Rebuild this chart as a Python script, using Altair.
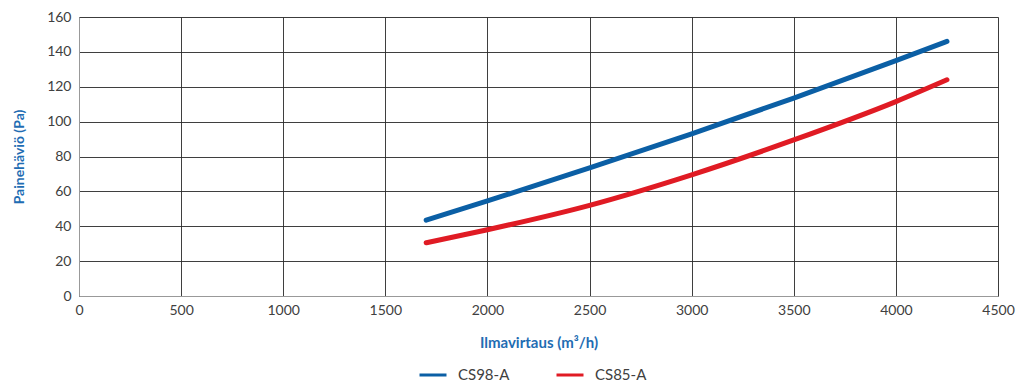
import altair as alt
import pandas as pd

flow = [1700, 2000, 2500, 3000, 3500, 4000, 4250]
cs98 = [43.5, 54.5, 73.5, 93.0, 113.5, 135.0, 146.0]
cs85 = [30.5, 38.0, 52.0, 69.5, 89.5, 111.5, 124.0]
series = ["CS98-A", "CS85-A"]
colors = ["#0b5fa5", "#e01b24"]
x_ticks = list(range(0, 4501, 500))
y_ticks = list(range(0, 161, 20))

rows = []
for f, v in zip(flow, cs98):
    rows.append({"flow": f, "dp": v, "series": series[0]})
for f, v in zip(flow, cs85):
    rows.append({"flow": f, "dp": v, "series": series[1]})
df = pd.DataFrame(rows)

font = "Lato"
title_color = "#1f6db3"

chart = alt.Chart(df).mark_line(strokeWidth=5, interpolate="monotone", strokeCap="round").encode(
    x=alt.X("flow:Q", scale=alt.Scale(domain=[0, 4500], nice=False),
            axis=alt.Axis(values=x_ticks, title="Ilmavirtaus (m³/h)", format="d",
                          labelFontSize=14, labelColor="#404040", labelFont=font, labelPadding=7,
                          labelFlush=False, labelOverlap=False,
                          titleFont=font, titleFontSize=15, titleColor=title_color, titleFontWeight="bold",
                          titlePadding=18, ticks=False, domainColor="#999999",
                          gridColor="#2a2a2a", gridWidth=1, gridOpacity=0.9)),
    y=alt.Y("dp:Q", scale=alt.Scale(domain=[0, 160], nice=False),
            axis=alt.Axis(values=y_ticks, title="Painehäviö (Pa)",
                          labelFontSize=14, labelColor="#404040", labelFont=font, labelPadding=8,
                          labelFlush=False, labelOverlap=False,
                          titleFont=font, titleFontSize=14, titleColor=title_color, titleFontWeight="bold",
                          titlePadding=20, ticks=False, domainColor="#999999",
                          gridColor="#2a2a2a", gridWidth=1, gridOpacity=0.9)),
    color=alt.Color("series:N", scale=alt.Scale(domain=series, range=colors),
                    sort=series,
                    legend=alt.Legend(title=None, orient="none", direction="horizontal",
                                      legendX=339, legendY=343,
                                      symbolType="stroke", symbolSize=729, symbolStrokeWidth=3,
                                      labelFontSize=15, labelFont=font, labelColor="#404040",
                                      columnPadding=40, labelOffset=10)),
).properties(
    width=919, height=279,
    autosize=alt.AutoSizeParams(type="none"),
    padding={"left": 71, "top": 9, "right": 18, "bottom": 87},
).configure_view(stroke="#999999", strokeWidth=1).configure(background="white")

chart.save("out.html", embed_options={"renderer": "svg", "actions": False})
